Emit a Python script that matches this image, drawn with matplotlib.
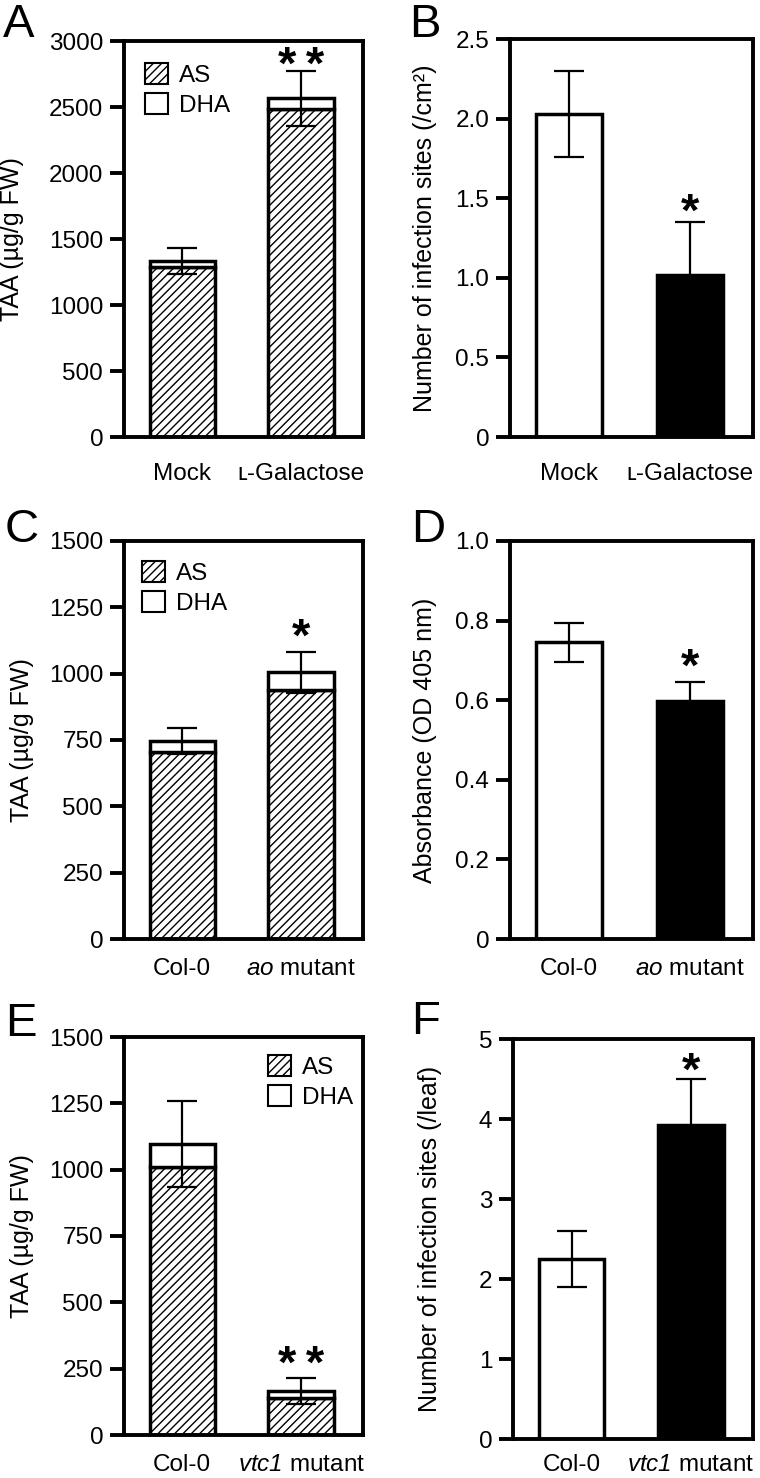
import matplotlib
matplotlib.use("Agg")
import matplotlib.pyplot as plt
from matplotlib.patches import Patch
import numpy as np

plt.rcParams['font.family'] = ['Liberation Sans', 'DejaVu Sans']
plt.rcParams['mathtext.fontset'] = 'custom'
plt.rcParams['mathtext.rm'] = 'Liberation Sans'
plt.rcParams['mathtext.it'] = 'Liberation Sans:italic'
plt.rcParams['mathtext.sf'] = 'Liberation Sans:italic'
plt.rcParams['hatch.linewidth'] = 1.0
plt.rcParams['hatch.color'] = 'black'

# ---------------- data ----------------
A_groups = ["Mock", "\u029f-Galactose"]
A_AS = [1290, 2485]
A_total = [1332, 2566]
A_err = [97, 210]

B_groups = ["Mock", "\u029f-Galactose"]
B_vals = [2.03, 1.02]
B_err = [0.27, 0.33]

C_groups = ["Col-0", r"$\mathsf{ao}$ mutant"]
C_AS = [703, 938]
C_total = [746, 1005]
C_err = [48, 77]

D_groups = ["Col-0", r"$\mathsf{ao}$ mutant"]
D_vals = [0.745, 0.598]
D_err = [0.05, 0.048]

E_groups = ["Col-0", r"$\mathsf{vtc1}$ mutant"]
E_AS = [1011, 140]
E_total = [1097, 165]
E_err = [162, 49]

F_groups = ["Col-0", r"$\mathsf{vtc1}$ mutant"]
F_vals = [2.25, 3.92]
F_err = [0.35, 0.58]

# ---------------- layout ----------------
W, H = 760, 1478
fig = plt.figure(figsize=(W / 100, H / 100), dpi=100)

def add_ax(l, t, r, b):
    return fig.add_axes([l / W, 1 - b / H, (r - l) / W, (b - t) / H])

SPINE_LW = 2.8
BAR_LW = 2.5
ERR_LW = 1.6
FS = 17.5
BW = 0.55
X = np.arange(2)
STAR_FS = 34

def style(ax, ylim, yticks, ytl, ylabel, xlabels, label_x, xpad):
    ax.set_xlim(-0.49, 1.52)
    ax.set_ylim(*ylim)
    ax.set_yticks(yticks)
    ax.set_yticklabels(ytl)
    for s in ax.spines.values():
        s.set_linewidth(SPINE_LW)
    ax.tick_params(axis='y', direction='out', length=10, width=SPINE_LW,
                   labelsize=FS, pad=5)
    ax.set_xticks(X)
    ax.set_xticklabels(xlabels)
    ax.tick_params(axis='x', length=0, labelsize=FS, pad=xpad)
    ax.set_ylabel(ylabel, fontsize=18)
    ax.yaxis.label.set_va('center')
    ax.yaxis.set_label_coords(label_x, 0.5)

def stacked(ax, AS, total, err):
    AS = np.array(AS); total = np.array(total)
    ax.bar(X, AS, BW, color='white', edgecolor='black', hatch='////',
           linewidth=BAR_LW, zorder=2)
    ax.bar(X, total - AS, BW, bottom=AS, color='white', edgecolor='black',
           linewidth=BAR_LW, zorder=2)
    ax.errorbar(X, total, yerr=err, fmt='none', ecolor='black',
                elinewidth=ERR_LW, capsize=11, capthick=ERR_LW, zorder=3)

def simple(ax, vals, err):
    ax.bar(X, vals, BW, color=['white', 'black'], edgecolor='black',
           linewidth=BAR_LW, zorder=2)
    ax.errorbar(X, vals, yerr=err, fmt='none', ecolor='black',
                elinewidth=ERR_LW, capsize=11, capthick=ERR_LW, zorder=3)

def star(ax, x, y, s, center_px):
    # center_px: distance (pixels) of star centre above the error-bar top
    em = STAR_FS * 100 / 72
    off_pt = (center_px - 0.45 * em) * 0.72
    ax.annotate(s, xy=(x, y), xytext=(0, off_pt), textcoords='offset points',
                ha='center', va='baseline', fontsize=STAR_FS, fontweight='bold',
                annotation_clip=False)

def legend(ax, x, y):
    handles = [Patch(facecolor='white', edgecolor='black', hatch='////',
                     lw=1.5, label='AS'),
               Patch(facecolor='white', edgecolor='black', lw=1.5, label='DHA')]
    ax.legend(handles=handles, loc='upper left', bbox_to_anchor=(x, y),
              frameon=False, fontsize=FS, handlelength=0.95,
              handleheight=0.95, handletextpad=0.45, labelspacing=0.25,
              borderpad=0, borderaxespad=0)

DSTAR = "*\u2009*"

# Panel A
axA = add_ax(124, 41, 363, 437)
stacked(axA, A_AS, A_total, A_err)
style(axA, (0, 3000), range(0, 3001, 500), [str(v) for v in range(0, 3001, 500)],
      "TAA (\u00b5g/g FW)", A_groups, (12 - 124) / 239, 19)
legend(axA, 0.088, 0.945)
star(axA, 1, A_total[1] + A_err[1], DSTAR, 13)

# Panel B
axB = add_ax(510, 39, 753, 437)
simple(axB, B_vals, B_err)
style(axB, (0, 2.5), [0, 0.5, 1.0, 1.5, 2.0, 2.5],
      ["0", "0.5", "1.0", "1.5", "2.0", "2.5"],
      "Number of infection sites (/cm\u00b2)", B_groups, (425 - 510) / 243, 19)
star(axB, 1, B_vals[1] + B_err[1], "*", 18)

# Panel C
axC = add_ax(124, 541, 363, 939)
stacked(axC, C_AS, C_total, C_err)
style(axC, (0, 1500), range(0, 1501, 250), [str(v) for v in range(0, 1501, 250)],
      "TAA (\u00b5g/g FW)", C_groups, (22 - 124) / 239, 13.5)
legend(axC, 0.075, 0.95)
star(axC, 1, C_total[1] + C_err[1], "*", 22)

# Panel D
axD = add_ax(510, 541, 753, 939)
simple(axD, D_vals, D_err)
style(axD, (0, 1.0), [0, 0.2, 0.4, 0.6, 0.8, 1.0],
      ["0", "0.2", "0.4", "0.6", "0.8", "1.0"],
      "Absorbance (OD 405 nm)", D_groups, (425 - 510) / 243, 13.5)
star(axD, 1, D_vals[1] + D_err[1], "*", 22)

# Panel E
axE = add_ax(124, 1037, 363, 1435)
stacked(axE, E_AS, E_total, E_err)
style(axE, (0, 1500), range(0, 1501, 250), [str(v) for v in range(0, 1501, 250)],
      "TAA (\u00b5g/g FW)", E_groups, (22 - 124) / 239, 14)
legend(axE, 0.603, 0.955)
star(axE, 1, E_total[1] + E_err[1], DSTAR, 21)

# Panel F
axF = add_ax(513, 1039, 753, 1439)
simple(axF, F_vals, F_err)
style(axF, (0, 5), range(0, 6), [str(v) for v in range(0, 6)],
      "Number of infection sites (/leaf)", F_groups, (430 - 513) / 240, 11)
star(axF, 1, F_vals[1] + F_err[1], "*", 16)

# Panel letters
for txt, x, yb in [("A", 3, 37), ("B", 409, 37), ("C", 5, 542),
                   ("D", 411, 542), ("E", 5, 1036), ("F", 411, 1034)]:
    fig.text(x / W, 1 - yb / H, txt, fontsize=34, ha='left', va='baseline')

fig.savefig("out.png", dpi=100)
